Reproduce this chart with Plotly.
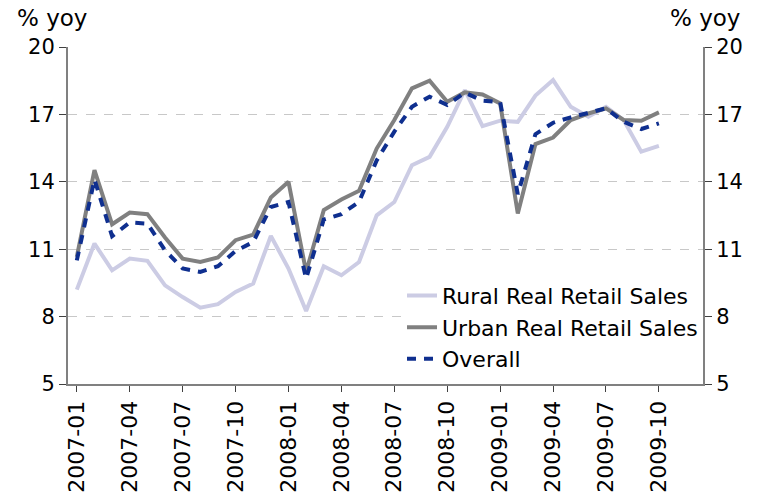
import plotly.graph_objects as go

months = [f"{y}-{m:02d}" for y in (2007, 2008, 2009) for m in range(1, 13)]
data_months = months[:34]
tick_labels = months[0:34:3]

rural = [9.2, 11.25, 10.06, 10.58, 10.48, 9.39, 8.87, 8.4, 8.55, 9.1, 9.47, 11.59,
         10.14, 8.25, 10.24, 9.84, 10.43, 12.51, 13.1, 14.74, 15.11, 16.45, 18.08, 16.48,
         16.72, 16.67, 17.84, 18.53, 17.34, 16.9, 17.34, 16.75, 15.34, 15.6]
urban = [10.66, 14.52, 12.11, 12.63, 12.56, 11.52, 10.58, 10.43, 10.63, 11.40, 11.65, 13.30,
         14.0, 9.99, 12.74, 13.21, 13.6, 15.48, 16.75, 18.16, 18.5, 17.56, 17.98, 17.89,
         17.49, 12.59, 15.68, 15.97, 16.75, 17.04, 17.27, 16.75, 16.72, 17.09]
overall = [10.5, 14.1, 11.58, 12.19, 12.14, 10.95, 10.14, 9.99, 10.24, 10.92, 11.32, 12.88,
           13.1, 9.69, 12.32, 12.56, 13.11, 14.95, 16.23, 17.34, 17.79, 17.42, 17.97, 17.61,
           17.55, 13.45, 16.12, 16.63, 16.87, 17.09, 17.27, 16.67, 16.35, 16.6]
y_ticks = [5, 8, 11, 14, 17, 20]

FONT = "DejaVu Sans"

fig = go.Figure()
fig.add_trace(go.Scatter(x=data_months, y=rural, mode="lines", name="Rural Real Retail Sales",
                         line=dict(color="#CCCCE4", width=4)))
fig.add_trace(go.Scatter(x=data_months, y=urban, mode="lines", name="Urban Real Retail Sales",
                         line=dict(color="#808080", width=4)))
fig.add_trace(go.Scatter(x=data_months, y=overall, mode="lines", name="Overall",
                         line=dict(color="#0F2F8F", width=4, dash="9px,8px")))
# invisible companion trace so the right-hand axis is drawn
fig.add_trace(go.Scatter(x=data_months, y=overall, mode="lines", yaxis="y2",
                         line=dict(color="rgba(0,0,0,0)", width=0), showlegend=False,
                         hoverinfo="skip"))

yax = dict(range=[5, 20], tickvals=y_ticks, showgrid=True, gridcolor="#C8C8C8",
           griddash="dash", gridwidth=1, showline=True, linecolor="#808080", linewidth=2,
           ticks="outside", ticklen=7, tickcolor="#404040", zeroline=False,
           automargin=False,
           tickfont=dict(family=FONT, size=21, color="#000000"), fixedrange=True)

fig.update_layout(
    width=763, height=498,
    margin=dict(l=68, r=60, t=47, b=114),
    plot_bgcolor="white", paper_bgcolor="white",
    font=dict(family=FONT, color="#000000"),
    xaxis=dict(type="category", categoryorder="array", categoryarray=months,
               range=[-0.5, 35.5], tickvals=tick_labels, ticktext=tick_labels,
               tickangle=-90, tickfont=dict(family=FONT, size=22, color="#000000"),
               showline=True, linecolor="#808080", linewidth=2, showgrid=False,
               ticks="outside", ticklen=6, tickcolor="#404040", automargin=False,
               fixedrange=True),
    yaxis=yax,
    yaxis2=dict(yax, overlaying="y", side="right", showgrid=False, anchor="x"),
    showlegend=True,
    legend=dict(x=0.526, y=0.324, xanchor="left", yanchor="top", bgcolor="white",
                font=dict(family=FONT, size=22, color="#000000"), tracegroupgap=0,
                itemwidth=30),
    annotations=[
        dict(text="% yoy", xref="paper", yref="paper", x=-0.0835, y=1.086,
             xanchor="left", yanchor="middle", showarrow=False,
             font=dict(family=FONT, size=23, color="#000000")),
        dict(text="% yoy", xref="paper", yref="paper", x=1.061, y=1.086,
             xanchor="right", yanchor="middle", showarrow=False,
             font=dict(family=FONT, size=23, color="#000000")),
    ],
)

fig.write_html("out.html", config={"displayModeBar": False},
               post_script="document.body.style.margin='0';document.body.style.overflow='hidden';")
